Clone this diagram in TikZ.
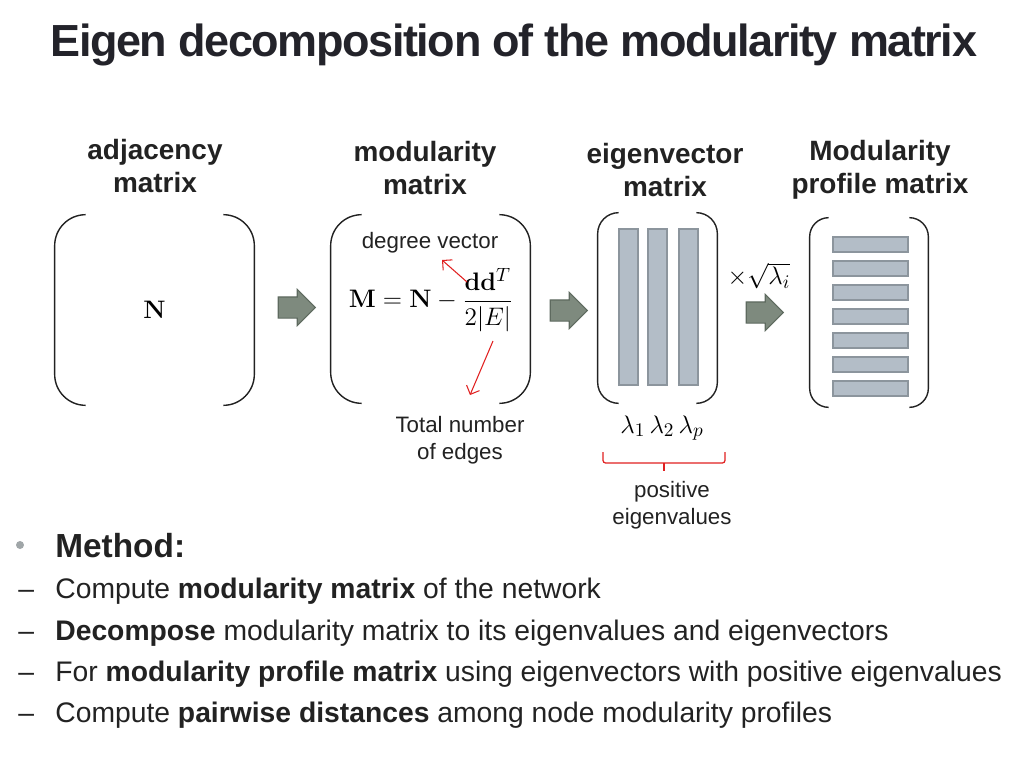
\documentclass[tikz,border=0pt]{standalone}
\usepackage{amsmath}
\usepackage[no-math]{fontspec}
\setmainfont{Liberation Sans}
\newfontfamily\titlefont[LetterSpace=-3.1]{Liberation Sans}
\usetikzlibrary{positioning,shapes.arrows,arrows.meta}

\definecolor{inkgray}{HTML}{222222}
\definecolor{titlegray}{HTML}{23232A}
\definecolor{arrowfill}{HTML}{7E8A7E}
\definecolor{arrowline}{HTML}{5E6A5F}
\definecolor{barfill}{HTML}{B3BDC7}
\definecolor{barline}{HTML}{8C959D}
\definecolor{notered}{HTML}{E02020}
\definecolor{bulletgray}{HTML}{A0A6A8}

\tikzset{
  heading/.style={font=\fontsize{15.9}{18.8}\selectfont\bfseries, align=center, text=inkgray},
  small/.style={font=\fontsize{12.7}{15.5}\selectfont, align=center, text=inkgray},
  body/.style={font=\fontsize{16.1}{19}\selectfont, anchor=base west, text=inkgray, inner sep=0pt},
  formula/.style={font=\fontsize{15.5}{18}\selectfont, text=black},
  slot/.style={inner sep=0pt},
  paren/.style={draw=inkgray, line width=0.8pt},
  flow/.style={single arrow, draw=arrowline, fill=arrowfill, line width=0.6pt,
    minimum height=0.74cm, inner xsep=0pt, inner ysep=0.2cm, single arrow head extend=0.15cm},
  bar/.style={draw=barline, fill=barfill, line width=0.6pt},
  note/.style={draw=notered, line width=0.6pt, -{Straight Barb[length=4pt]}},
}

\begin{document}
\begin{tikzpicture}[x=0.02cm, y=-0.02cm]
  \useasboundingbox (0,0) rectangle (1024,768);

  % title
  \node[anchor=base west, inner sep=0pt, text=titlegray,
    font=\fontsize{25.6}{30}\titlefont\bfseries] (title) at (50,56)
    {Eigen decomposition of the modularity matrix};

  % the four matrices
  \node[slot, minimum width=3.98cm, minimum height=3.8cm] (adj) at (154.5,310) {};
  \node[slot, minimum width=3.98cm, minimum height=3.76cm] (mod) at (430.5,309) {};
  \node[slot, minimum width=2.38cm, minimum height=3.8cm] (eig) at (657.5,308) {};
  \node[slot, minimum width=2.36cm, minimum height=3.78cm] (prof) at (869,312.5) {};

  \foreach \m/\r in {adj/0.62cm, mod/0.62cm, eig/0.42cm, prof/0.38cm} {
    \draw[paren, rounded corners=\r] ([xshift=\r]\m.north west) -- (\m.north west)
      -- (\m.south west) -- ([xshift=\r]\m.south west);
    \draw[paren, rounded corners=\r] ([xshift=-\r]\m.north east) -- (\m.north east)
      -- (\m.south east) -- ([xshift=-\r]\m.south east);
  }

  % headings
  \node[heading] (adjlbl) at (155,166) {adjacency\\matrix};
  \node[heading] (modlbl) at (425,168) {modularity\\matrix};
  \node[heading] (eiglbl) at (665,170) {eigenvector\\matrix};
  \node[heading] (proflbl) at (880,170) {Modularity\\profile matrix};

  % contents
  \node[formula] (n) at (adj) {$\mathbf{N}$};
  \node[formula] (mdef) at (431,300)
    {$\mathbf{M}=\mathbf{N}-\dfrac{\mathbf{d}\mathbf{d}^T}{2|E|}$};
  \node[small] (dv) at (430,243) {degree vector};
  \node[small] (edges) at (460,440) {Total number\\of edges};
  \coordinate (ddtop) at (467,282);
  \coordinate (dvtip) at (442,260);
  \coordinate (ebot) at (493,341);
  \coordinate (etip) at (470,395);
  \draw[note] (ddtop) -- (dvtip);
  \draw[note] (ebot) -- (etip);

  \foreach \x in {619,648,679}
    \draw[bar] (\x,229) rectangle ++(19,156);
  \foreach \y in {237,261,...,381}
    \draw[bar] (833,\y) rectangle ++(75,15);

  \node[formula] (scale) at (759,276) {$\times\sqrt{\lambda_i}$};
  \node[formula] (lams) at (662,428) {$\lambda_1\,\lambda_2\,\lambda_p$};
  \draw[notered, line width=0.7pt, rounded corners=1.5pt]
    (603,452) -- (603,463) -- (725,463) -- (725,452);
  \draw[notered, line width=0.7pt] (664,463) -- (664,471);
  \node[small] (pos) at (672,505) {positive\\eigenvalues};

  % block arrows
  \node[flow] (ar1) at (291.5,307.5) {};
  \node[flow] (ar2) at (563.5,310.5) {};
  \node[flow] (ar3) at (759.5,312.5) {};

  % method list
  \fill[bulletgray] (20,545) circle (4);
  \node[body, font=\fontsize{19}{23}\selectfont\bfseries] (method) at (55,557) {Method:};
  \foreach \y/\t in {598/{Compute \textbf{modularity matrix} of the network},
      640/{\textbf{Decompose} modularity matrix to its eigenvalues and eigenvectors},
      681/{For \textbf{modularity profile matrix} using eigenvectors with positive eigenvalues},
      722/{Compute \textbf{pairwise distances} among node modularity profiles}} {
    \node[body] at (18,\y) {--};
    \node[body] at (55,\y) {\t};
  }
\end{tikzpicture}
\end{document}
